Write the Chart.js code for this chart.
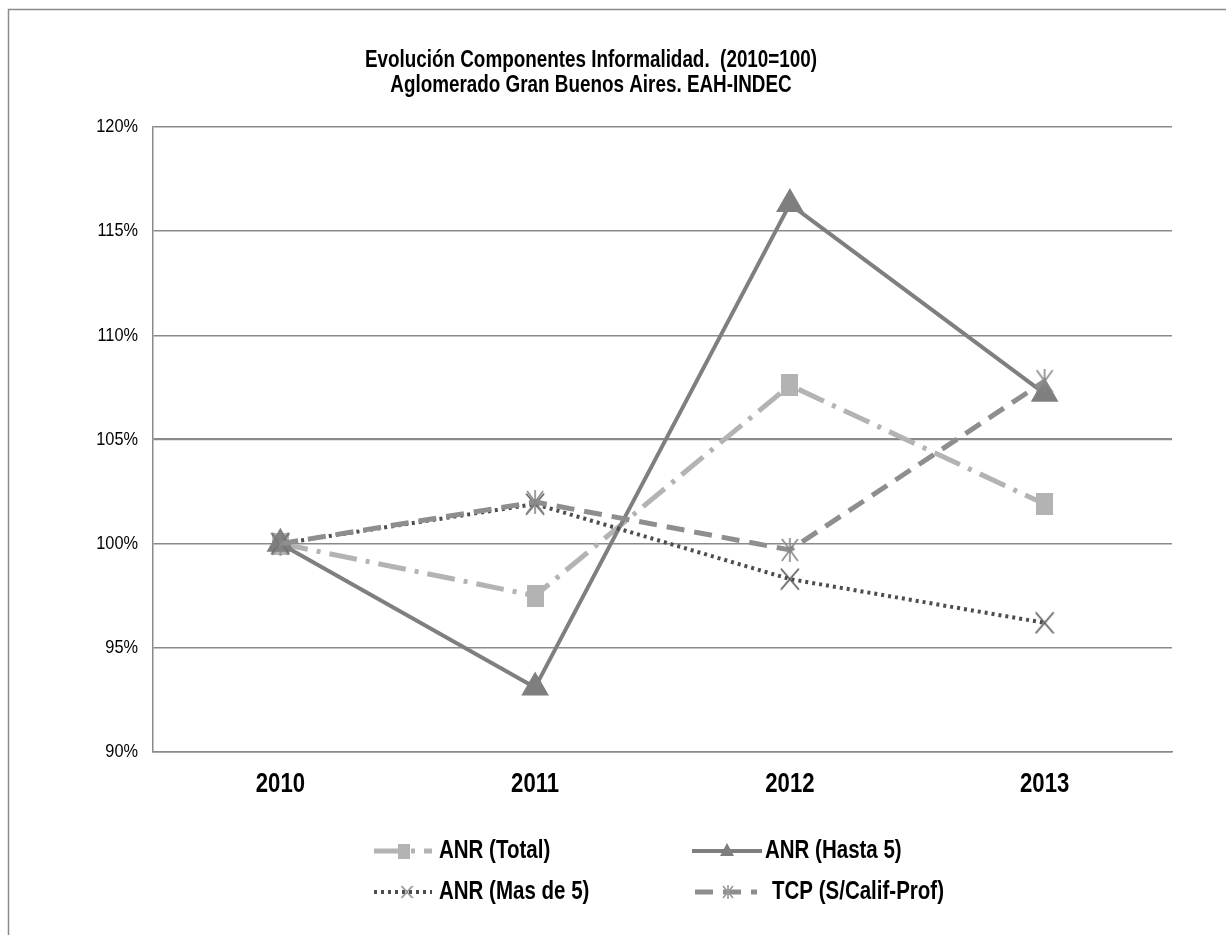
<!DOCTYPE html>
<html>
<head>
<meta charset="utf-8">
<title>Evolución Componentes Informalidad</title>
<script src="https://cdn.jsdelivr.net/npm/chart.js@4.4.0/dist/chart.umd.min.js"></script>
<style>
  html, body { margin: 0; padding: 0; background: #fff; }
  #wrap { width: 1226px; height: 935px; }
</style>
</head>
<body>
<div id="wrap"><canvas id="chart" width="1226" height="935"></canvas></div>
<script>
// data (index, 2010 = 100)
const years = ['2010', '2011', '2012', '2013'];
const anrTotal = [100, 97.5, 107.6, 101.9];
const anrHasta5 = [100, 93.1, 116.3, 107.2];
const anrMas5 = [100, 101.9, 98.3, 96.2];
const tcpSinCalif = [100, 102.0, 99.7, 107.8];
const seriesNames = ['ANR (Total)', 'ANR (Hasta 5)', 'ANR (Mas de 5)', 'TCP (S/Calif-Prof)'];
const titleLines = ['Evolución Componentes Informalidad.  (2010=100)', 'Aglomerado Gran Buenos Aires. EAH-INDEC'];
const yMin = 90;
const yMax = 120;
const yStep = 5;

const FONT = "'Liberation Sans', Arial, sans-serif";
const GRID = '#8a8a8a';
// no narrow face installed, so text is squeezed horizontally
const NARROW = 0.82;

function narrowText(ctx, text, x, y, font, align, sx) {
  ctx.save();
  ctx.font = font;
  ctx.textAlign = align;
  ctx.textBaseline = 'middle';
  ctx.fillStyle = '#000';
  ctx.translate(x, y);
  ctx.scale(sx || NARROW, 1);
  ctx.fillText(text, 0, 0);
  ctx.restore();
}

// small canvases used as point markers
function marker(w, h, draw) {
  const c = document.createElement('canvas');
  c.width = w;
  c.height = h;
  draw(c.getContext('2d'), w, h);
  return c;
}

function squareMarker(w, h) {
  return marker(w, h, (g) => {
    g.fillStyle = '#b3b3b3';
    g.fillRect(0, 0, w, h);
  });
}

function crossMarker(w, h, color) {
  return marker(w, h, (g) => {
    g.strokeStyle = color;
    g.lineWidth = 1.6;
    g.beginPath();
    g.moveTo(1, 1); g.lineTo(w - 1, h - 1);
    g.moveTo(w - 1, 1); g.lineTo(1, h - 1);
    g.stroke();
  });
}

function starMarker(w, h, color) {
  return marker(w, h, (g) => {
    g.strokeStyle = color;
    g.lineWidth = 1.6;
    g.beginPath();
    g.moveTo(1, 1); g.lineTo(w - 1, h - 1);
    g.moveTo(w - 1, 1); g.lineTo(1, h - 1);
    g.moveTo(w / 2, 0); g.lineTo(w / 2, h);
    g.stroke();
  });
}

const datasets = [
  {
    label: seriesNames[0],
    data: anrTotal,
    borderColor: '#b3b3b3',
    backgroundColor: '#b3b3b3',
    borderWidth: 5,
    borderDash: [28, 9, 4, 9],
    pointStyle: squareMarker(17, 22),
    legendMarker: squareMarker(12, 15),
    order: 3
  },
  {
    label: seriesNames[1],
    data: anrHasta5,
    borderColor: '#7f7f7f',
    backgroundColor: '#7f7f7f',
    borderWidth: 4,
    borderDash: [],
    pointStyle: 'triangle',
    pointRadius: 12,
    legendMarker: 'triangle',
    order: 2
  },
  {
    label: seriesNames[2],
    data: anrMas5,
    borderColor: '#4d4d4d',
    backgroundColor: '#4d4d4d',
    borderWidth: 4,
    borderDash: [3, 4],
    pointStyle: crossMarker(20, 23, '#555'),
    legendMarker: crossMarker(13, 14, '#888'),
    order: 1
  },
  {
    label: seriesNames[3],
    data: tcpSinCalif,
    borderColor: '#8e8e8e',
    backgroundColor: '#8e8e8e',
    borderWidth: 5,
    borderDash: [18, 10],
    pointStyle: starMarker(18, 24, '#888'),
    legendMarker: starMarker(12, 14, '#999'),
    order: 0
  }
];

// hand placed legend slots (line start/end, marker, text, row)
const legendSlots = [
  { x0: 374, x1: 432, mx: 404, tx: 439, y: 851 },
  { x0: 692, x1: 762, mx: 727, tx: 765, y: 851 },
  { x0: 374, x1: 432, mx: 407, tx: 439, y: 892 },
  { x0: 695, x1: 757, mx: 728, tx: 772, y: 892 }
];

const decorPlugin = {
  id: 'decor',
  beforeDraw(chart) {
    const ctx = chart.ctx;
    ctx.save();
    ctx.fillStyle = '#fff';
    ctx.fillRect(0, 0, chart.width, chart.height);
    // outer frame (only left/top visible in the picture)
    ctx.strokeStyle = GRID;
    ctx.lineWidth = 1.5;
    ctx.beginPath();
    ctx.moveTo(8.5, chart.height);
    ctx.lineTo(8.5, 9.5);
    ctx.lineTo(chart.width, 9.5);
    ctx.stroke();
    ctx.restore();
  },
  afterDraw(chart) {
    const ctx = chart.ctx;
    const xs = chart.scales.x;
    const ys = chart.scales.y;

    narrowText(ctx, titleLines[0], 591, 61, 'bold 23px ' + FONT, 'center');
    narrowText(ctx, titleLines[1], 591, 86, 'bold 23px ' + FONT, 'center');

    // axis labels, placed by the scales
    ys.ticks.forEach((t) => {
      narrowText(ctx, t.value + '%', 138, ys.getPixelForValue(t.value), '19px ' + FONT, 'right', 0.86);
    });
    years.forEach((yr, i) => {
      narrowText(ctx, yr, xs.getPixelForValue(i), 785, 'bold 27px ' + FONT, 'center');
    });

    chart.data.datasets.forEach((ds, i) => {
      const s = legendSlots[i];
      ctx.save();
      ctx.strokeStyle = ds.borderColor;
      ctx.lineWidth = ds.borderWidth;
      ctx.setLineDash(ds.borderDash);
      ctx.beginPath();
      ctx.moveTo(s.x0, s.y);
      ctx.lineTo(s.x1, s.y);
      ctx.stroke();
      ctx.restore();
      if (ds.legendMarker === 'triangle') {
        ctx.fillStyle = ds.backgroundColor;
        ctx.beginPath();
        ctx.moveTo(s.mx, s.y - 8);
        ctx.lineTo(s.mx + 7, s.y + 5);
        ctx.lineTo(s.mx - 7, s.y + 5);
        ctx.closePath();
        ctx.fill();
      } else {
        const m = ds.legendMarker;
        ctx.drawImage(m, s.mx - m.width / 2, s.y - m.height / 2);
      }
      narrowText(ctx, ds.label, s.tx, s.y, 'bold 25px ' + FONT, 'left');
    });
  }
};

new Chart(document.getElementById('chart'), {
  type: 'line',
  data: { labels: years, datasets: datasets },
  options: {
    responsive: false,
    animation: false,
    events: [],
    layout: { padding: { top: 127, right: 54, left: 0, bottom: 0 } },
    elements: {
      line: { tension: 0, borderJoinStyle: 'round' },
      point: { radius: 11, hoverRadius: 11, borderWidth: 0 }
    },
    plugins: {
      legend: { display: false },
      title: { display: false },
      tooltip: { enabled: false }
    },
    scales: {
      x: {
        offset: true,
        grid: { display: false, drawTicks: false },
        border: { display: true, color: GRID, width: 1.5 },
        ticks: { display: false },
        afterFit: (s) => { s.height = 183; }
      },
      y: {
        min: yMin,
        max: yMax,
        grid: {
          color: GRID,
          drawTicks: false,
          lineWidth: (c) => (c.tick && c.tick.value === 105 ? 2.2 : 1.5)
        },
        border: { display: true, color: GRID, width: 1.5 },
        ticks: { display: false, stepSize: yStep },
        afterFit: (s) => { s.width = 153; }
      }
    }
  },
  plugins: [decorPlugin]
});
</script>
</body>
</html>
